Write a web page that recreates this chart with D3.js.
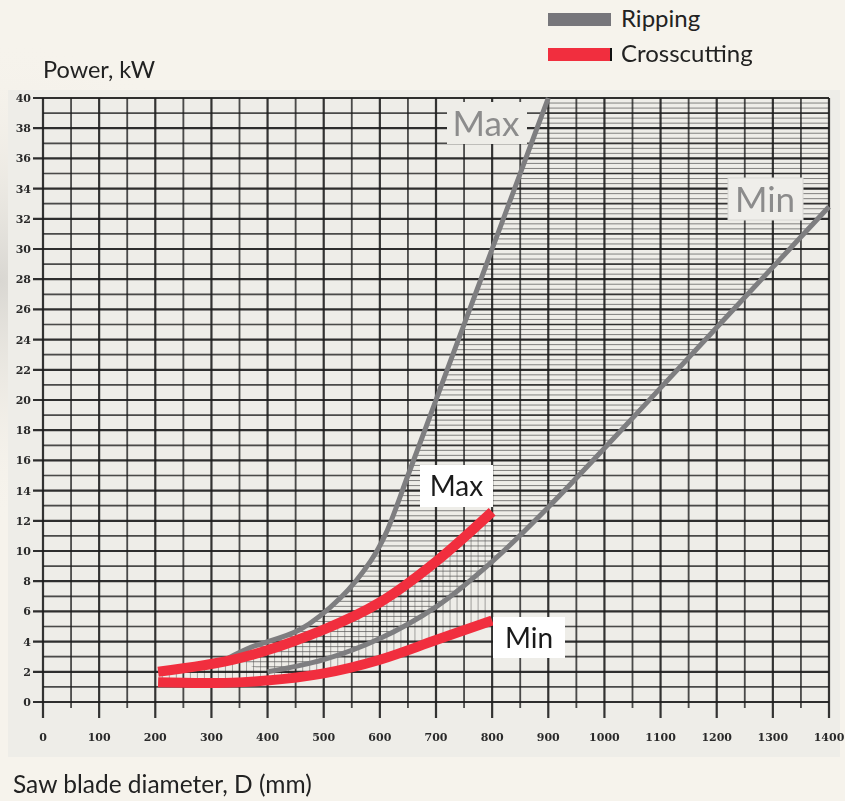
<!DOCTYPE html>
<html>
<head>
<meta charset="utf-8">
<script src="https://cdn.jsdelivr.net/npm/d3@7"></script>
<style>
  html, body { margin: 0; padding: 0; background: #f6f3ec; }
  svg { display: block; }
</style>
</head>
<body>
<div id="chart"></div>
<script>
// data
const xTicks = [0, 100, 200, 300, 400, 500, 600, 700, 800, 900, 1000, 1100, 1200, 1300, 1400];
const yTicks = [0, 2, 4, 6, 8, 10, 12, 14, 16, 18, 20, 22, 24, 26, 28, 30, 32, 34, 36, 38, 40];

const ripMaxD = [330, 369, 458, 530, 583, 610, 650, 700, 750, 800, 850, 900];
const ripMaxP = [2.9, 3.6, 4.8, 6.9, 9.3, 11.1, 15.0, 20.0, 25.0, 30.0, 35.0, 40.0];
const ripMinD = [400, 500, 600, 700, 800, 900, 1000, 1100, 1200, 1300, 1400];
const ripMinP = [2.0, 2.8, 4.2, 6.3, 9.3, 12.9, 16.8, 20.8, 24.8, 28.8, 32.8];

const crossMaxD = [205, 350, 500, 600, 700, 800];
const crossMaxP = [2.0, 2.9, 4.8, 6.6, 9.3, 12.6];
const crossMinD = [205, 350, 500, 600, 700, 800];
const crossMinP = [1.3, 1.3, 1.9, 2.8, 4.1, 5.4];

const legendItems = ["Ripping", "Crosscutting"];

(function() {
    const width = 845, height = 801;
    const svg = d3.select("#chart").append("svg")
        .attr("width", width).attr("height", height);

    const defs = svg.append("defs");
    const grad = defs.append("radialGradient").attr("id", "shade")
        .attr("cx", "0%").attr("cy", "35%").attr("r", "30%");
    grad.append("stop").attr("offset", "0%").attr("stop-color", "#d9d7d2");
    grad.append("stop").attr("offset", "100%").attr("stop-color", "#f6f3ec").attr("stop-opacity", 0);
    svg.append("rect").attr("width", width).attr("height", height).attr("fill", "url(#shade)");

    defs.append("filter").attr("id", "soft")
        .append("feGaussianBlur").attr("stdDeviation", 0.45);

    const x = d3.scaleLinear().domain([0, 1400]).range([43, 829]);
    const y = d3.scaleLinear().domain([0, 40]).range([702, 98]);

    // scanned sheet
    svg.append("rect").attr("x", 8).attr("y", 90).attr("width", 832).attr("height", 667)
        .attr("fill", "#eeede8");

    const ripMax = ripMaxD.map((d, i) => [d, ripMaxP[i]]);
    const ripMin = ripMinD.map((d, i) => [d, ripMinP[i]]);
    const crossMax = crossMaxD.map((d, i) => [d, crossMaxP[i]]);
    const crossMin = crossMinD.map((d, i) => [d, crossMinP[i]]);

    const line = d3.line().x(d => x(d[0])).y(d => y(d[1])).curve(d3.curveCatmullRom.alpha(0.5));
    const straight = d3.line().x(d => x(d[0])).y(d => y(d[1]));

    const grid = svg.append("g").attr("filter", "url(#soft)");

    // hatching between ripping curves
    const ripArea = ripMax.concat([[1400, 40]], ripMin.slice().reverse());
    defs.append("clipPath").attr("id", "ripClip").append("path").attr("d", straight(ripArea));
    grid.append("g").attr("clip-path", "url(#ripClip)")
        .selectAll("line").data(d3.range(0, 40, 1 / 3)).join("line")
        .attr("x1", x(0)).attr("x2", x(1400))
        .attr("y1", d => y(d)).attr("y2", d => y(d))
        .attr("stroke", "#3a3a3a").attr("stroke-width", 1).attr("opacity", 0.6);

    // hatching between crosscutting curves
    const crossArea = crossMax.concat(crossMin.slice().reverse());
    defs.append("clipPath").attr("id", "crossClip").append("path").attr("d", straight(crossArea));
    grid.append("g").attr("clip-path", "url(#crossClip)")
        .selectAll("line").data(d3.range(200, 820, 12.5)).join("line")
        .attr("x1", d => x(d)).attr("x2", d => x(d))
        .attr("y1", y(0)).attr("y2", y(14))
        .attr("stroke", "#555").attr("stroke-width", 1).attr("opacity", 0.5);

    // horizontal grid, every 1 kW
    grid.append("g").selectAll("line").data(d3.range(0, 41, 1)).join("line")
        .attr("x1", d => d % 2 === 0 ? 33 : x(0)).attr("x2", x(1400))
        .attr("y1", d => y(d)).attr("y2", d => y(d))
        .attr("stroke", "#1e1e1e")
        .attr("stroke-width", d => d % 2 === 0 ? 2.2 : 1.7)
        .attr("opacity", d => d % 2 === 0 ? 0.92 : 0.8);

    // vertical grid, every 50 mm
    grid.append("g").selectAll("line").data(d3.range(0, 1401, 50)).join("line")
        .attr("x1", d => x(d)).attr("x2", d => x(d))
        .attr("y1", y(40)).attr("y2", d => d % 100 === 0 ? y(0) + 16 : y(0) + 6)
        .attr("stroke", "#1e1e1e")
        .attr("stroke-width", d => d % 100 === 0 ? 2.2 : 1.8)
        .attr("opacity", d => d % 100 === 0 ? 0.9 : 0.8);

    // tick labels
    const tickFont = "'DejaVu Serif', serif";
    svg.append("g").attr("filter", "url(#soft)").selectAll("text").data(yTicks).join("text")
        .attr("x", 31).attr("y", d => y(d) + 4)
        .attr("text-anchor", "end")
        .attr("font-family", tickFont).attr("font-size", 11).attr("font-weight", "bold")
        .attr("fill", "#2b2b2b")
        .text(d => d);
    svg.append("g").attr("filter", "url(#soft)").selectAll("text").data(xTicks).join("text")
        .attr("x", d => x(d)).attr("y", 741)
        .attr("text-anchor", "middle")
        .attr("font-family", tickFont).attr("font-size", 11).attr("font-weight", "bold")
        .attr("fill", "#2b2b2b")
        .text(d => d);

    // scanned labels "Max" / "Min"
    const scanLab = svg.append("g");
    scanLab.append("rect").attr("x", 447).attr("y", 102).attr("width", 80).attr("height", 42)
        .attr("fill", "#eeede8");
    scanLab.append("text").attr("x", 486).attr("y", 136).attr("text-anchor", "middle")
        .attr("font-family", "Lato, sans-serif").attr("font-size", 35)
        .attr("fill", "#8c8c8c").text("Max");
    scanLab.append("rect").attr("x", 728).attr("y", 178).attr("width", 75).attr("height", 42)
        .attr("fill", "#efeeea").attr("stroke", "#d8d8d4").attr("stroke-width", 1);
    scanLab.append("text").attr("x", 765).attr("y", 212).attr("text-anchor", "middle")
        .attr("font-family", "Lato, sans-serif").attr("font-size", 35)
        .attr("fill", "#8c8c8c").text("Min");

    // ripping curves
    svg.append("g").selectAll("path").data([ripMax, ripMin]).join("path")
        .attr("d", line)
        .attr("fill", "none").attr("stroke", "#7e7e80").attr("stroke-width", 5);

    // crosscutting curves
    svg.append("g").selectAll("path").data([crossMax, crossMin]).join("path")
        .attr("d", line)
        .attr("fill", "none").attr("stroke", "#f12e3e").attr("stroke-width", 10)
        .attr("stroke-linecap", "butt");

    // white labels
    const boxes = [
        { t: "Max", x: 420, y: 465, w: 73, h: 42 },
        { t: "Min", x: 493, y: 617, w: 72, h: 41 }
    ];
    const bl = svg.append("g").selectAll("g").data(boxes).join("g");
    bl.append("rect").attr("x", d => d.x).attr("y", d => d.y)
        .attr("width", d => d.w).attr("height", d => d.h).attr("fill", "#fff");
    bl.append("text").attr("x", d => d.x + d.w / 2).attr("y", d => d.y + d.h / 2 + 10)
        .attr("text-anchor", "middle")
        .attr("font-family", "Lato, sans-serif").attr("font-size", 28)
        .attr("fill", "#1a1a1a").text(d => d.t);

    // axis titles
    svg.append("text").attr("x", 43).attr("y", 78)
        .attr("font-family", "Lato, sans-serif").attr("font-size", 23.5)
        .attr("fill", "#222").text("Power, kW");
    svg.append("text").attr("x", 13).attr("y", 793)
        .attr("font-family", "Lato, sans-serif").attr("font-size", 24.5)
        .attr("fill", "#222").text("Saw blade diameter, D (mm)");

    // legend
    const lg = svg.append("g").attr("transform", "translate(547,12)");
    const colors = ["#77767b", "#f12e3e"];
    legendItems.forEach((name, i) => {
        const g = lg.append("g").attr("transform", `translate(0,${i * 35})`);
        g.append("rect").attr("x", 1).attr("y", 1).attr("width", 63).attr("height", 13)
            .attr("fill", colors[i]);
        if (i === 1) g.append("rect").attr("x", 63).attr("y", 1).attr("width", 2).attr("height", 13).attr("fill", "#111");
        g.append("text").attr("x", 74).attr("y", 15)
            .attr("font-family", "Lato, sans-serif").attr("font-size", 24)
            .attr("fill", "#222").text(name);
    });
})();
</script>
</body>
</html>
